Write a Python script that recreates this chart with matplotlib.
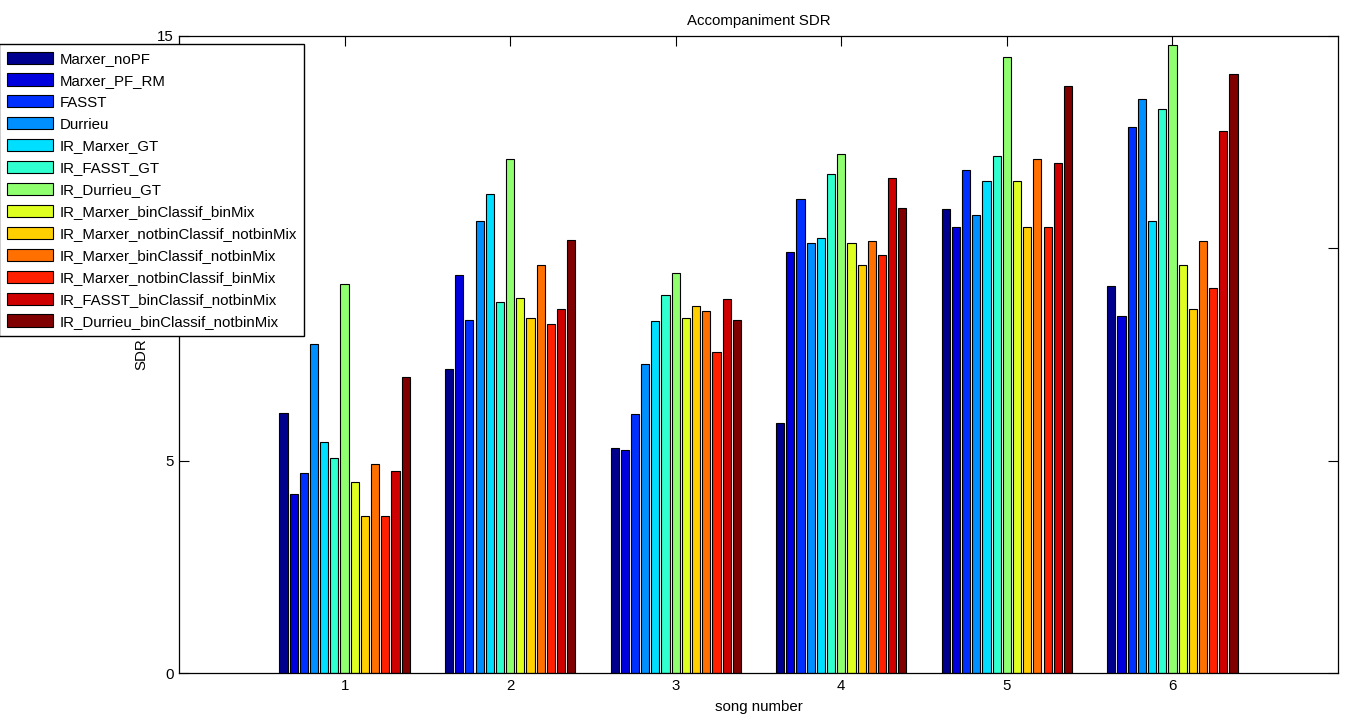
import numpy as np
import matplotlib
matplotlib.use("Agg")
import matplotlib.pyplot as plt

plt.rcParams['font.family'] = ['Liberation Sans', 'DejaVu Sans']

#=========== Data =======================================
songs = [1, 2, 3, 4, 5, 6]
methods = ["Marxer_noPF", "Marxer_PF_RM", "FASST", "Durrieu",
           "IR_Marxer_GT", "IR_FASST_GT", "IR_Durrieu_GT",
           "IR_Marxer_binClassif_binMix", "IR_Marxer_notbinClassif_notbinMix",
           "IR_Marxer_binClassif_notbinMix", "IR_Marxer_notbinClassif_binMix",
           "IR_FASST_binClassif_notbinMix", "IR_Durrieu_binClassif_notbinMix"]

marxer_nopf = [6.13, 7.17, 5.30, 5.88, 10.92, 9.12]
marxer_pf_rm = [4.22, 9.36, 5.25, 9.91, 10.51, 8.40]
fasst = [4.71, 8.31, 6.11, 11.16, 11.85, 12.86]
durrieu = [7.75, 10.63, 7.28, 10.12, 10.79, 13.51]
ir_marxer_gt = [5.43, 11.28, 8.29, 10.24, 11.58, 10.65]
ir_fasst_gt = [5.06, 8.73, 8.90, 11.74, 12.16, 13.28]
ir_durrieu_gt = [9.17, 12.09, 9.42, 12.21, 14.51, 14.78]
ir_marxer_bin_bin = [4.49, 8.84, 8.37, 10.12, 11.58, 9.61]
ir_marxer_nbin_nbin = [3.70, 8.37, 8.63, 9.61, 10.51, 8.56]
ir_marxer_bin_nbin = [4.93, 9.60, 8.52, 10.16, 12.10, 10.16]
ir_marxer_nbin_bin = [3.70, 8.21, 7.55, 9.85, 10.51, 9.06]
ir_fasst_bin_nbin = [4.76, 8.56, 8.81, 11.66, 12.00, 12.75]
ir_durrieu_bin_nbin = [6.98, 10.19, 8.32, 10.94, 13.82, 14.10]

series = [marxer_nopf, marxer_pf_rm, fasst, durrieu, ir_marxer_gt, ir_fasst_gt,
          ir_durrieu_gt, ir_marxer_bin_bin, ir_marxer_nbin_nbin, ir_marxer_bin_nbin,
          ir_marxer_nbin_bin, ir_fasst_bin_nbin, ir_durrieu_bin_nbin]


def matlab_jet(m=64):
    """MATLAB style jet colormap (m x 3)."""
    n = int(np.ceil(m / 4))
    u = np.concatenate([np.arange(1, n + 1) / n, np.ones(n - 1), np.arange(n, 0, -1) / n])
    g = int(np.ceil(n / 2)) - int(m % 4 == 1) + np.arange(1, len(u) + 1)
    r = g + n
    b = g - n
    g = g[g <= m]
    r = r[r <= m]
    b = b[b >= 1]
    J = np.zeros((m, 3))
    J[r - 1, 0] = u[:len(r)]
    J[g - 1, 1] = u[:len(g)]
    J[b - 1, 2] = u[len(u) - len(b):]
    return J


#=========== Plot ================
fig = plt.figure(figsize=(13.45, 7.17), dpi=100)
ax = fig.add_axes([179 / 1345, 1 - 673.3 / 717, (1338 - 179) / 1345, (673.3 - 35.7) / 717])

n = len(series)
slot = 0.8 / n
width = 0.8 * slot
cmap = matlab_jet(64)
# scaled CData mapping like MATLAB bar groups
idx = np.minimum(np.floor(np.arange(n) / (n - 1) * 64).astype(int), 63)
colors = cmap[idx]
x = np.array(songs, dtype=float)

for i, (vals, name) in enumerate(zip(series, methods)):
    offset = (i - (n - 1) / 2) * slot
    ax.bar(x + offset, vals, width=width, color=colors[i], edgecolor="black",
           linewidth=0.8, label=name, zorder=2)

fs = 10.8
ax.set_xlim(0, 7)
ax.set_ylim(0, 15)
ax.set_xticks(songs)
ax.set_yticks([0, 5, 10, 15])
ax.tick_params(direction="in", length=7.5, width=0.8, top=True, right=True,
               labelsize=fs, pad=4)
for s in ax.spines.values():
    s.set_linewidth(0.9)

ax.set_title("Accompaniment SDR", fontsize=fs, pad=8)
ax.set_xlabel("song number", fontsize=fs, labelpad=5)
ax.set_ylabel("SDR", fontsize=fs, labelpad=6)

leg = fig.legend(loc="upper left", bbox_to_anchor=(-1 / 1345, 1 - 44 / 717),
                 bbox_transform=fig.transFigure, borderaxespad=0,
                 fontsize=fs, handlelength=3.13, handleheight=0.87,
                 labelspacing=0.51, handletextpad=0.4, borderpad=0.5,
                 fancybox=False, framealpha=1, edgecolor="black")
leg.get_frame().set_linewidth(1.0)

fig.savefig("out.png", dpi=100)
